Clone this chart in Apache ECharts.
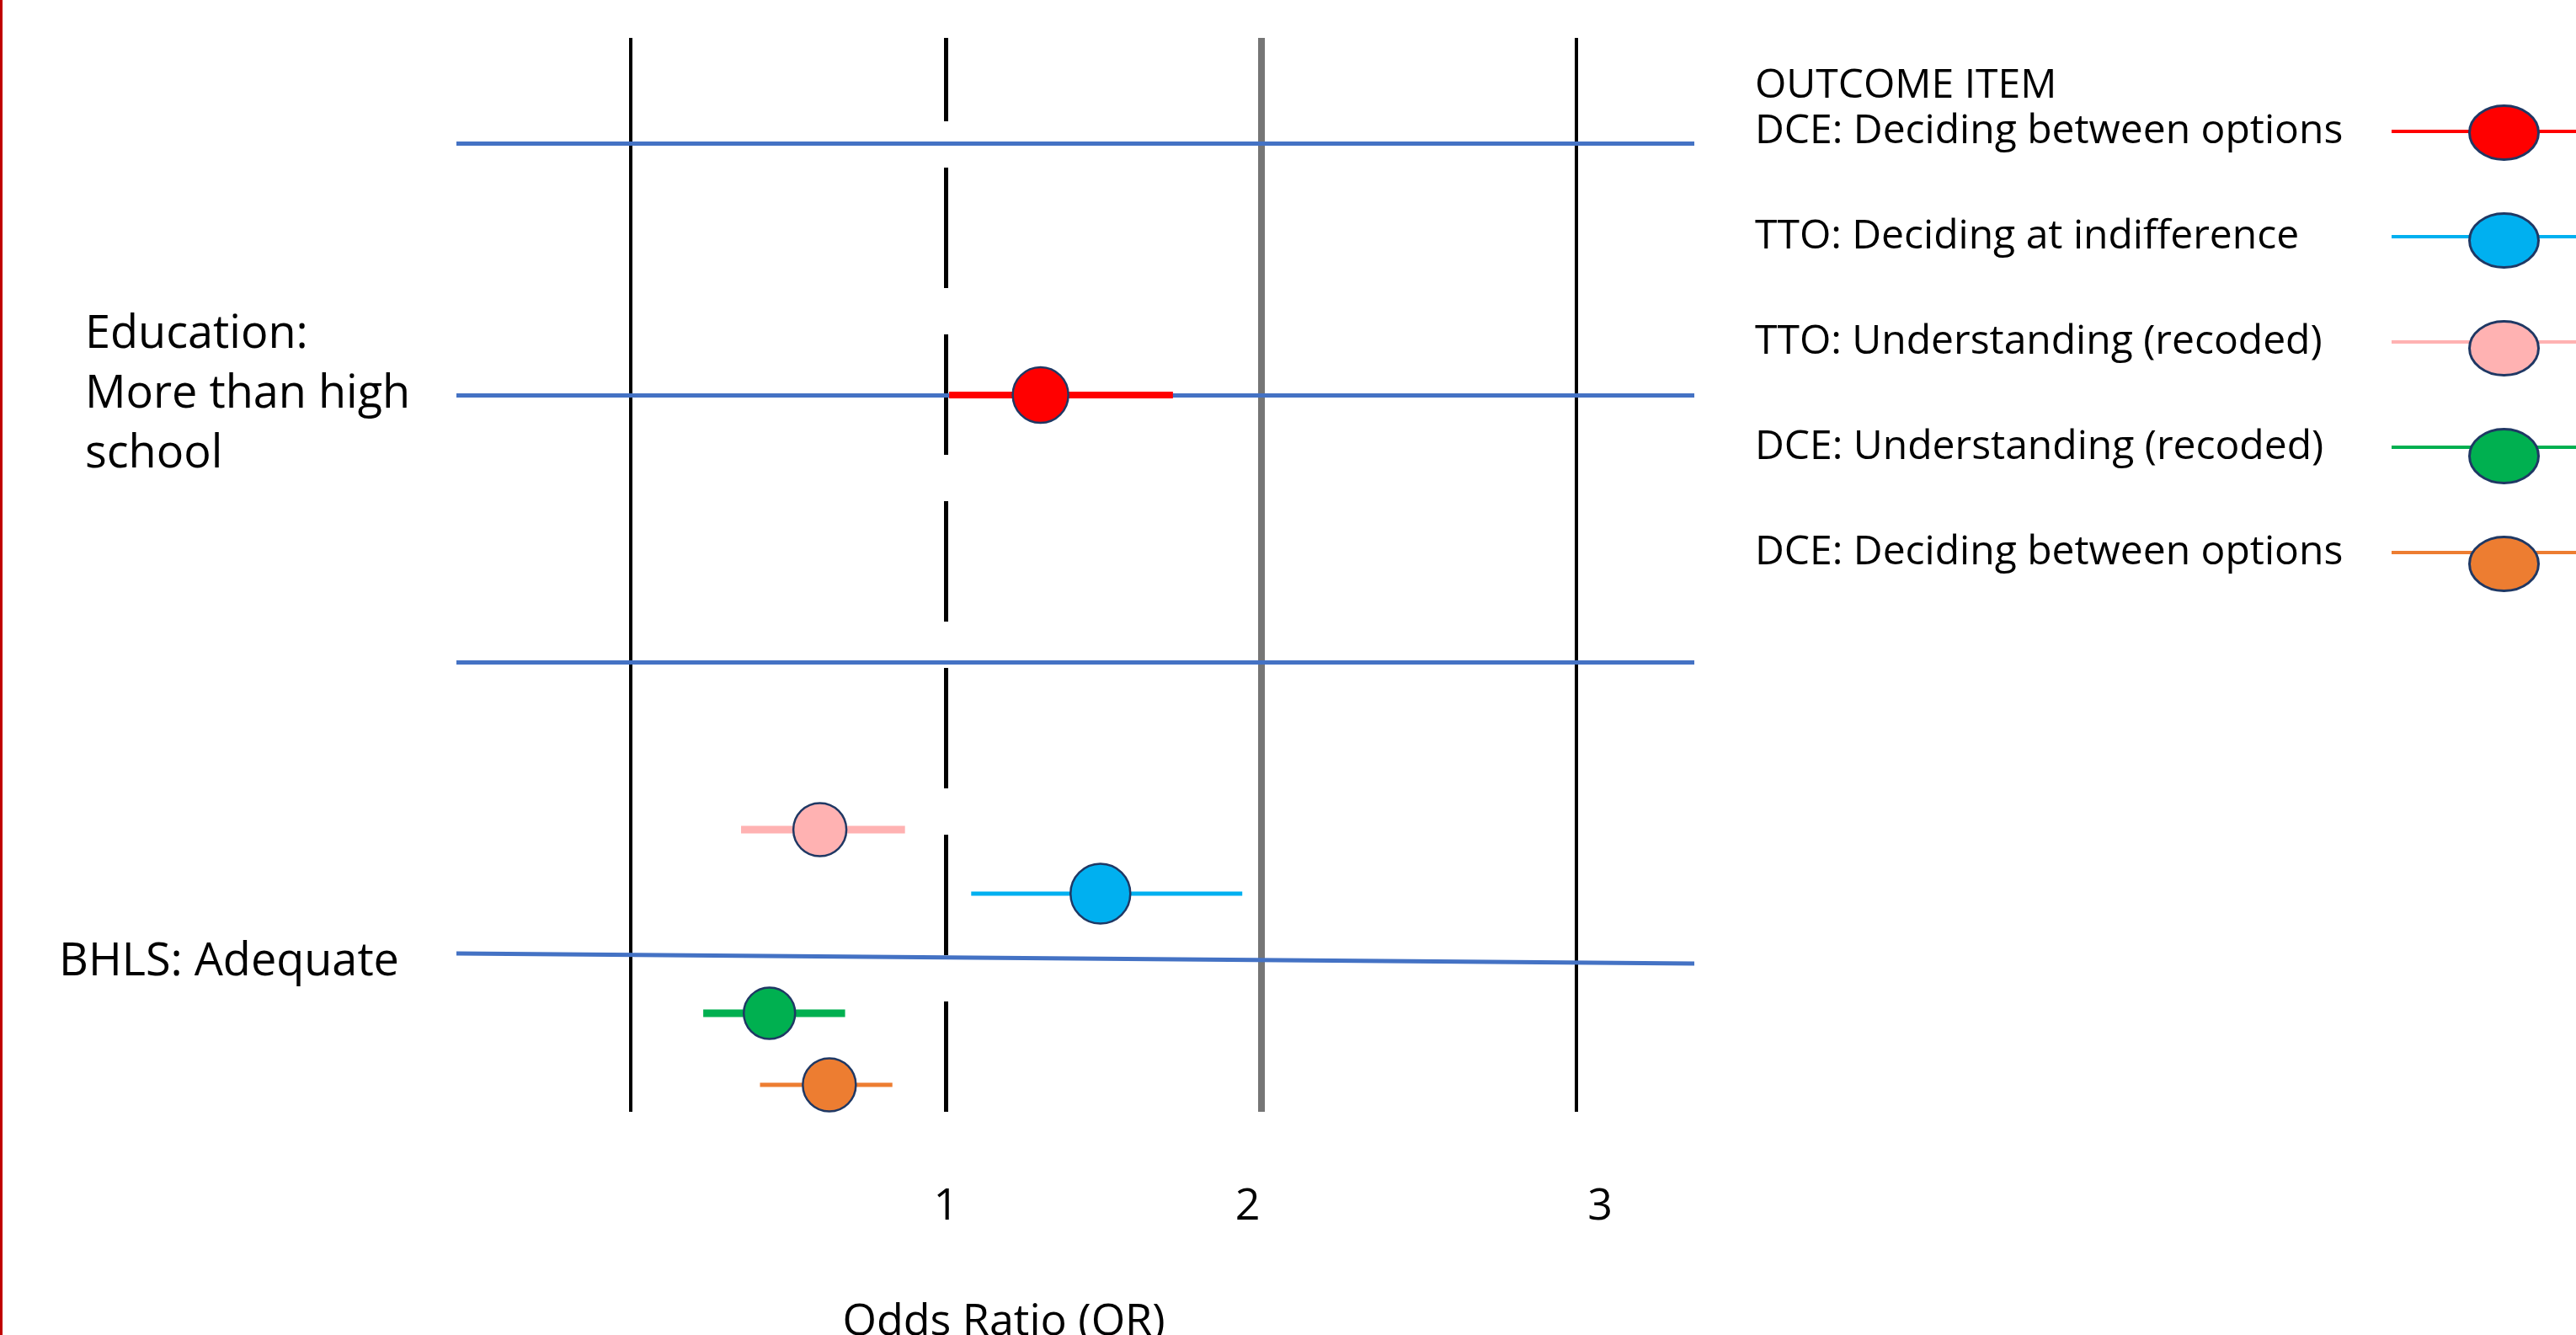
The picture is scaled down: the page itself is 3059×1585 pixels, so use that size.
<!DOCTYPE html>
<html>
<head>
<meta charset="utf-8">
<script src="https://cdn.jsdelivr.net/npm/echarts@6/dist/echarts.min.js"></script>
<style>
html,body{margin:0;padding:0;background:#ffffff;}
#chart{width:3059px;height:1585px;}
</style>
</head>
<body>
<div id="chart"></div>
<script>
// ---------- data ----------
const seriesNames = [
  'DCE: Deciding between options',
  'TTO: Deciding at indifference',
  'TTO: Understanding (recoded)',
  'DCE: Understanding (recoded)',
  'DCE: Deciding between options (BHLS)'
];
const legendLabels = [
  'DCE: Deciding between options',
  'TTO: Deciding at indifference',
  'TTO: Understanding (recoded)',
  'DCE: Understanding (recoded)',
  'DCE: Deciding between options'
];
const oddsRatio = [1.30, 1.49, 0.60, 0.44, 0.63];
const lowerCI   = [1.01, 1.08, 0.35, 0.23, 0.41];
const upperCI   = [1.72, 1.94, 0.87, 0.68, 0.83];
const rowPos    = [4.24, 10.16, 9.40, 11.58, 12.43];

const groupLabels = ['Education:\nMore than high\nschool', 'BHLS: Adequate'];
const groupPos    = [4.24, 10.98];
const separatorPos = [1.25, 7.41];
const bhlsLine = [10.87, 10.99];
const refValues = [0, 1, 2, 3];
const tickValues = [1, 2, 3];
const tickLabels = ['1', '2', '3'];
const legendTitle = 'OUTCOME ITEM';
const axisTitle = 'Odds Ratio (OR)';

// ---------- styles ----------
const colors = ['#ff0000', '#00b0f0', '#ffb2b2', '#00b050', '#ed7d31'];
const barWidths = [8, 5, 9, 9, 5];
const markerR = [33, 35.5, 31.5, 30.5, 31.5];
const tickPad = [[0, 0, 0, 0], [0, 32, 0, 0], [0, 0, 0, 56]];
const FONT = 'Open Sans';
const X_MIN = -0.553, X_MAX = 3.374, Y_MIN = 0, Y_MAX = 12.75;

function makeRender(i) {
  return function (params, api) {
    const y = api.value(3);
    const p0 = api.coord([api.value(1), y]);
    const p1 = api.coord([api.value(2), y]);
    const c = api.coord([api.value(0), y]);
    const color = api.visual('color');
    return {
      type: 'group',
      children: [
        { type: 'line', shape: { x1: p0[0], y1: p0[1], x2: p1[0], y2: p1[1] },
          style: { stroke: color, lineWidth: barWidths[i] } },
        { type: 'circle', shape: { cx: c[0], cy: c[1], r: markerR[i] },
          style: { fill: color, stroke: '#1f3864', lineWidth: 2.5 } }
      ]
    };
  };
}

const series = seriesNames.map(function (name, i) {
  return {
    type: 'custom',
    name: name,
    coordinateSystem: 'cartesian2d',
    itemStyle: { color: colors[i] },
    encode: { x: [0, 1, 2], y: 3 },
    renderItem: makeRender(i),
    z: 5,
    data: [[oddsRatio[i], lowerCI[i], upperCI[i], rowPos[i]]]
  };
});

const refStyles = [
  { color: '#000000', width: 4, type: 'solid' },
  { color: '#000000', width: 5, type: [143, 55], dashOffset: 44 },
  { color: '#767676', width: 8, type: 'solid' },
  { color: '#000000', width: 4, type: 'solid' }
];
const blueStyle = { color: '#4472c4', width: 5, type: 'solid' };

const markData = [];
refValues.forEach(function (v, i) { markData.push({ xAxis: v, lineStyle: refStyles[i] }); });
separatorPos.forEach(function (v) { markData.push({ yAxis: v, lineStyle: blueStyle }); });
markData.push({ yAxis: groupPos[0], lineStyle: blueStyle });
markData.push([{ coord: [X_MIN, bhlsLine[0]], lineStyle: blueStyle }, { coord: [X_MAX, bhlsLine[1]] }]);

series.unshift({
  type: 'line',
  name: '__ref',
  data: [],
  silent: true,
  z: 1,
  markLine: {
    silent: true,
    symbol: ['none', 'none'],
    label: { show: false },
    animation: false,
    data: markData
  }
});

// legend icons: a thin bar (with invisible bbox anchors) and a bordered ellipse
const ICON_BAR = 'path://M0,30 L264,30 L264,34 L0,34 Z M132,0 L132.01,0 L132,0.01 Z M132,64 L132.01,64 L132,63.99 Z';
const ICON_DOT = 'path://M0,32 A41,32 0 1,1 82,32 A41,32 0 1,1 0,32 Z';

const tickRich = {};
tickLabels.forEach(function (t, k) {
  tickRich['t' + k] = { fontSize: 52, fontFamily: FONT, color: '#000000', padding: tickPad[k] };
});

const chart = echarts.init(document.getElementById('chart'), null, { renderer: 'canvas' });
chart.setOption({
  animation: false,
  backgroundColor: '#ffffff',
  title: {
    text: legendTitle,
    left: 2084,
    top: 78,
    padding: 0,
    textStyle: { fontFamily: FONT, fontSize: 48, fontWeight: 'normal', color: '#000000' }
  },
  grid: { left: 542, right: 1047, top: 45, bottom: 265, outerBoundsMode: 'none', containLabel: false },
  xAxis: {
    type: 'value',
    min: X_MIN,
    max: X_MAX,
    axisLine: { show: false },
    axisTick: { show: false },
    splitLine: { show: false },
    axisLabel: {
      customValues: tickValues,
      formatter: function (v) {
        const k = tickValues.indexOf(Math.round(v));
        return k >= 0 ? '{t' + k + '|' + tickLabels[k] + '}' : '';
      },
      rich: tickRich,
      margin: 87,
      fontSize: 52,
      fontFamily: FONT,
      color: '#000000'
    },
    name: axisTitle,
    nameLocation: 'middle',
    nameGap: 224,
    nameTextStyle: { fontSize: 52, fontFamily: FONT, color: '#000000', padding: [0, 170, 0, 0] }
  },
  yAxis: {
    type: 'value',
    inverse: true,
    min: Y_MIN,
    max: Y_MAX,
    axisLine: { show: false },
    axisTick: { show: false },
    splitLine: { show: false },
    axisLabel: {
      customValues: groupPos,
      align: 'left',
      margin: 472,
      formatter: function (v) {
        let best = 0;
        groupPos.forEach(function (g, k) { if (Math.abs(g - v) < Math.abs(groupPos[best] - v)) best = k; });
        const lines = groupLabels[best].split('\n');
        const key = best === 0 ? 'e' : 'b';
        return lines.map(function (l) { return '{' + key + '|' + l + '}'; }).join('\n');
      },
      rich: {
        e: { fontSize: 54, fontFamily: FONT, color: '#000000', lineHeight: 71, padding: [0, 0, 0, 31] },
        b: { fontSize: 54, fontFamily: FONT, color: '#000000', lineHeight: 71 }
      }
    }
  },
  legend: [
    {
      orient: 'vertical',
      left: 2084,
      top: 124,
      padding: 0,
      align: 'right',
      itemWidth: 264,
      itemHeight: 64,
      itemGap: 61,
      selectedMode: false,
      icon: ICON_BAR,
      symbolKeepAspect: false,
      itemStyle: { borderWidth: 0 },
      data: seriesNames,
      formatter: function (name) {
        return '{t|' + legendLabels[seriesNames.indexOf(name)] + '}';
      },
      textStyle: {
        fontSize: 48, fontFamily: FONT, color: '#000000',
        rich: { t: { width: 751, align: 'left', fontSize: 48, fontFamily: FONT, color: '#000000' } }
      }
    },
    {
      orient: 'vertical',
      left: 2931,
      top: 124,
      padding: 0,
      align: 'left',
      itemWidth: 82,
      itemHeight: 64,
      itemGap: 61,
      selectedMode: false,
      icon: ICON_DOT,
      symbolKeepAspect: false,
      itemStyle: { borderColor: '#1f3864', borderWidth: 3 },
      data: seriesNames,
      formatter: function () { return ''; },
      textStyle: { fontSize: 8, color: 'rgba(0,0,0,0)' }
    }
  ],
  graphic: [
    { type: 'rect', left: 0, top: 0, shape: { width: 3, height: 1585 }, style: { fill: '#c00000' }, silent: true }
  ],
  series: series
});
</script>
</body>
</html>
